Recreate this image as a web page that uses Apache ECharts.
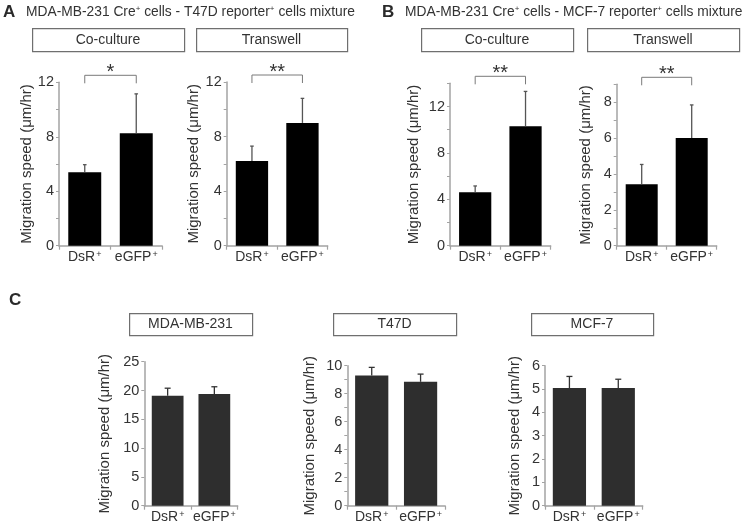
<!DOCTYPE html>
<html>
<head>
<meta charset="utf-8">
<script src="https://cdn.jsdelivr.net/npm/echarts@6/dist/echarts.min.js"></script>
<style>
html,body{margin:0;padding:0;background:#fff;}
#c{width:747px;height:527px;}
</style>
</head>
<body>
<div id="c"></div>
<script>
// ---- data ----
const categories = ['DsR', 'eGFP'];
// Panel A: MDA-MB-231 Cre+ cells - T47D reporter+ cells mixture
const aCoMean = [5.4, 8.25];
const aCoSD = [0.55, 2.9];
const aTwMean = [6.2, 9.0];
const aTwSD = [1.1, 1.8];
// Panel B: MDA-MB-231 Cre+ cells - MCF-7 reporter+ cells mixture
const bCoMean = [4.6, 10.3];
const bCoSD = [0.55, 3.0];
const bTwMean = [3.43, 6.0];
const bTwSD = [1.1, 1.85];
// Panel C: single cell lines
const cMdaMean = [19.1, 19.4];
const cMdaSD = [1.3, 1.25];
const cT47Mean = [9.3, 8.85];
const cT47SD = [0.58, 0.55];
const cMcfMean = [5.04, 5.04];
const cMcfSD = [0.5, 0.38];
// significance labels
const aCoSig = '*';
const aTwSig = '**';
const bCoSig = '**';
const bTwSig = '**';
// y-axis tick settings
const yMax = [12, 12, 14, 9, 25, 10, 6];
const yTickStep = [2, 2, 2, 1, 5, 1, 1];
const yLabelStep = [4, 4, 4, 2, 5, 2, 1];
const panelTitles = ['Co-culture', 'Transwell', 'Co-culture', 'Transwell', 'MDA-MB-231', 'T47D', 'MCF-7'];

const FONT = "'Liberation Sans', Arial, sans-serif";
const AXIS_COLOR = '#a3a3a3';
const TEXT_COLOR = '#333';

const panels = [
  {mean: aCoMean, sd: aCoSD, sig: aCoSig},
  {mean: aTwMean, sd: aTwSD, sig: aTwSig},
  {mean: bCoMean, sd: bCoSD, sig: bCoSig},
  {mean: bTwMean, sd: bTwSD, sig: bTwSig},
  {mean: cMdaMean, sd: cMdaSD, sig: null},
  {mean: cT47Mean, sd: cT47SD, sig: null},
  {mean: cMcfMean, sd: cMcfSD, sig: null}
];

// layout (pixels)
const grids = [
  {left: 59, top: 82.3, width: 103, height: 163.4},
  {left: 226.7, top: 82, width: 101, height: 163.7},
  {left: 450, top: 83.3, width: 100.7, height: 162.4},
  {left: 616.7, top: 84.3, width: 100, height: 161.4},
  {left: 144.3, top: 361.7, width: 93.4, height: 144},
  {left: 347.3, top: 365.7, width: 97.7, height: 140},
  {left: 545, top: 365.7, width: 97.7, height: 140}
];
const nameGaps = [24.5, 22.5, 28.5, 23.5, 31.5, 29.5, 22.5];
const boxes = [
  {x: 32, y: 28, w: 152, h: 23},
  {x: 196, y: 28, w: 151, h: 23},
  {x: 421, y: 28, w: 152, h: 23},
  {x: 587, y: 28, w: 152, h: 23},
  {x: 129, y: 313, w: 123, h: 22},
  {x: 333, y: 313, w: 123, h: 22},
  {x: 531, y: 313, w: 122, h: 22}
];

const option = {
  animation: false,
  backgroundColor: '#fff',
  textStyle: {fontFamily: FONT},
  grid: grids.map(g => ({left: g.left, top: g.top, width: g.width, height: g.height, containLabel: false})),
  xAxis: grids.map((g, i) => ({
    type: 'category', gridIndex: i, data: categories,
    axisLine: {lineStyle: {color: AXIS_COLOR, width: 1.5}},
    axisTick: {show: true, length: 4, interval: 0, lineStyle: {color: AXIS_COLOR, width: 1.2}},
    axisLabel: {
      interval: 0, hideOverlap: false,
      margin: 4, color: TEXT_COLOR, fontSize: 14, fontFamily: FONT,
      formatter: v => v + '{s|+}',
      rich: {s: {fontSize: 9, verticalAlign: 'top', color: TEXT_COLOR, fontFamily: FONT, padding: [0, 0, 0, 1]}}
    }
  })),
  yAxis: grids.map((g, i) => ({
    type: 'value', gridIndex: i, min: 0, max: yMax[i], interval: yTickStep[i],
    name: 'Migration speed (\u03bcm/hr)', nameLocation: 'middle', nameGap: nameGaps[i],
    nameTextStyle: {color: TEXT_COLOR, fontSize: 15, fontFamily: FONT},
    axisLine: {show: true, lineStyle: {color: AXIS_COLOR, width: 1.5}},
    axisTick: {show: true, length: 3, lineStyle: {color: AXIS_COLOR, width: 1}},
    splitLine: {show: false},
    axisLabel: {
      margin: 5, color: TEXT_COLOR, fontSize: 14.5, fontFamily: FONT,
      formatter: v => (Math.round(v) % yLabelStep[i] === 0 ? String(v) : '')
    }
  })),
  series: [],
  graphic: []
};

panels.forEach((p, i) => {
  const isC = i >= 4;
  option.series.push({
    type: 'bar', xAxisIndex: i, yAxisIndex: i,
    data: p.mean,
    barWidth: isC ? '68%' : '64%',
    itemStyle: {color: isC ? '#2e2e2e' : '#000'},
    silent: true
  });
  const errColor = isC ? '#333' : '#555';
  const capHalf = isC ? 3 : 1.8;
  option.series.push({
    type: 'custom', xAxisIndex: i, yAxisIndex: i,
    data: p.mean.map((m, k) => [k, m, p.sd[k]]),
    z: 5, silent: true,
    renderItem: (params, api) => {
      const k = api.value(0), m = api.value(1), s = api.value(2);
      const base = api.coord([k, m]);
      const top = api.coord([k, m + s]);
      return {type: 'group', children: [
        {type: 'line', shape: {x1: base[0], y1: base[1], x2: top[0], y2: top[1]}, style: {stroke: errColor, lineWidth: 1.3}},
        {type: 'line', shape: {x1: top[0] - capHalf, y1: top[1], x2: top[0] + capHalf, y2: top[1]}, style: {stroke: errColor, lineWidth: 1.3}}
      ]};
    }
  });
  if (p.sig) {
    option.series.push({
      type: 'custom', xAxisIndex: i, yAxisIndex: i,
      data: [[0, 1]], z: 6, silent: true, clip: false,
      renderItem: (params, api) => {
        const x0 = api.coord([api.value(0), 0])[0];
        const x1 = api.coord([api.value(1), 0])[0];
        const yb = params.coordSys.y - 7;
        return {type: 'group', children: [
          {type: 'polyline', shape: {points: [[x0, yb + 8], [x0, yb], [x1, yb], [x1, yb + 8]]},
            style: {stroke: '#7a7a7a', lineWidth: 1, fill: null}},
          {type: 'text', style: {text: p.sig, x: (x0 + x1) / 2, y: yb - 3, align: 'center', verticalAlign: 'middle',
            textAlign: 'center', textVerticalAlign: 'middle',
            font: '20px ' + FONT, fill: TEXT_COLOR}}
        ]};
      }
    });
  }
});

boxes.forEach((b, i) => {
  option.graphic.push({
    type: 'rect', left: b.x, top: b.y, shape: {width: b.w, height: b.h},
    style: {fill: '#fff', stroke: '#6f6f6f', lineWidth: 1.2}, silent: true
  });
  option.graphic.push({
    type: 'text', x: b.x + b.w / 2, y: b.y + b.h / 2 + 0.5,
    style: {text: panelTitles[i], align: 'center', verticalAlign: 'middle', font: '14px ' + FONT, fill: TEXT_COLOR},
    silent: true
  });
});

const heads = [
  {letter: 'A', lx: 3, ly: 12, tx: 26, text: 'MDA-MB-231 Cre{s|+} cells - T47D reporter{s|+} cells mixture'},
  {letter: 'B', lx: 382, ly: 12, tx: 405, text: 'MDA-MB-231 Cre{s|+} cells - MCF-7 reporter{s|+} cells mixture'},
  {letter: 'C', lx: 9, ly: 300, tx: null, text: null}
];
heads.forEach(h => {
  option.graphic.push({
    type: 'text', x: h.lx, y: h.ly,
    style: {text: h.letter, align: 'left', verticalAlign: 'middle', font: 'bold 17px ' + FONT, fill: '#2a2a2a'},
    silent: true
  });
  if (h.text) {
    option.graphic.push({
      type: 'text', x: h.tx, y: h.ly,
      style: {text: h.text, align: 'left', verticalAlign: 'middle', font: '13.8px ' + FONT, fill: TEXT_COLOR,
        rich: {s: {fontSize: 8, verticalAlign: 'top', fill: TEXT_COLOR, fontFamily: FONT}}},
      silent: true
    });
  }
});

const chart = echarts.init(document.getElementById('c'), null, {renderer: 'canvas'});
chart.setOption(option);
</script>
</body>
</html>
